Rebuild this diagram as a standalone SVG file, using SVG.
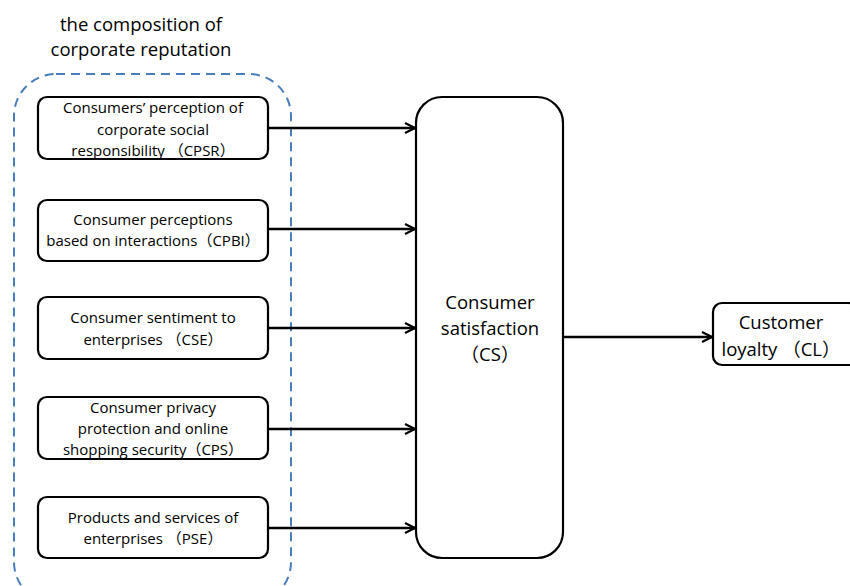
<svg xmlns="http://www.w3.org/2000/svg" width="850" height="586" viewBox="0 0 850 586">
<defs>
<style>
.t{font-family:"Open Sans","Noto Sans CJK SC",sans-serif;fill:#000;text-anchor:middle}
.s{font-size:15px}
.m{font-size:18.5px}
.box{fill:#fff;stroke:#000;stroke-width:2.2}
.con{stroke:#000;stroke-width:2.5;fill:none;marker-end:url(#ah)}
</style>
<marker id="ah" viewBox="0 0 12 12" refX="11" refY="6" markerWidth="12" markerHeight="12" markerUnits="userSpaceOnUse" orient="auto">
<path d="M1,1 L11,6 L1,11" fill="none" stroke="#000" stroke-width="2.2"/>
</marker>
</defs>
<rect width="850" height="586" fill="#fff"/>
<g id="group-title">
<text class="t m" x="141" y="31">the composition of</text>
<text class="t m" x="141" y="56">corporate reputation</text>
<rect x="14" y="74" width="277" height="530" rx="42" fill="none" stroke="#4a7ebb" stroke-width="2" stroke-dasharray="9 6"/>
</g>
<g id="connectors">
<line class="con" x1="268" y1="128" x2="415" y2="128"/>
<line class="con" x1="268" y1="229" x2="415" y2="229"/>
<line class="con" x1="268" y1="328" x2="415" y2="328"/>
<line class="con" x1="268" y1="429" x2="415" y2="429"/>
<line class="con" x1="268" y1="528" x2="415" y2="528"/>
<line class="con" x1="563" y1="337" x2="712" y2="337"/>
</g>
<g id="cpsr">
<rect class="box" x="38" y="97" width="230" height="62" rx="9"/>
<text class="t s" x="153" y="113">Consumers’ perception of</text>
<text class="t s" x="153" y="135">corporate social</text>
<text class="t s" x="153" y="156">responsibility （CPSR）</text>
</g>
<g id="cpbi">
<rect class="box" x="38" y="200" width="230" height="61" rx="9"/>
<text class="t s" x="153" y="225">Consumer perceptions</text>
<text class="t s" x="153" y="246">based on interactions（CPBI）</text>
</g>
<g id="cse">
<rect class="box" x="38" y="297" width="230" height="62" rx="9"/>
<text class="t s" x="153" y="323">Consumer sentiment to</text>
<text class="t s" x="153" y="345">enterprises （CSE）</text>
</g>
<g id="cps">
<rect class="box" x="38" y="397" width="230" height="62" rx="9"/>
<text class="t s" x="153" y="413">Consumer privacy</text>
<text class="t s" x="153" y="434">protection and online</text>
<text class="t s" x="153" y="455">shopping security（CPS）</text>
</g>
<g id="pse">
<rect class="box" x="38" y="497" width="230" height="61" rx="9"/>
<text class="t s" x="153" y="523">Products and services of</text>
<text class="t s" x="153" y="544">enterprises （PSE）</text>
</g>
<g id="cs">
<rect class="box" x="416" y="97" width="147" height="461" rx="26"/>
<text class="t m" x="490" y="309">Consumer</text>
<text class="t m" x="490" y="335">satisfaction</text>
<text class="t m" x="490" y="361">（CS）</text>
</g>
<g id="cl">
<rect class="box" x="713" y="303" width="145" height="62" rx="9"/>
<text class="t m" x="781" y="329">Customer</text>
<text class="t m" x="781" y="356">loyalty （CL）</text>
</g>
</svg>
